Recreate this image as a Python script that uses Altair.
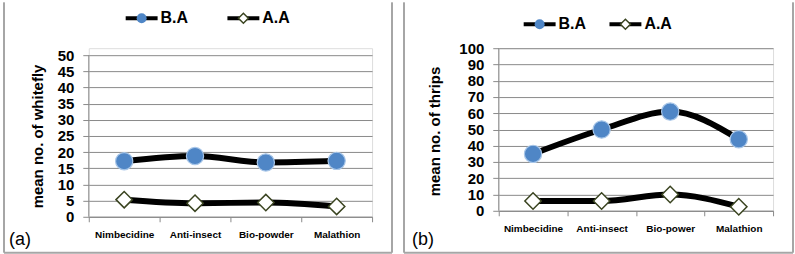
import altair as alt
import pandas as pd

FONT = "Liberation Sans"
GRAY = "#8a8a8a"
FRAME = "#a6a6a6"
BLUE = "#4f86c6"

series = ["B.A", "A.A"]

categories_a = ["Nimbecidine", "Anti-insect", "Bio-powder", "Malathion"]
ba_a = [17.2, 18.8, 16.8, 17.3]
aa_a = [5.3, 4.2, 4.4, 3.2]

categories_b = ["Nimbecidine", "Anti-insect", "Bio-power", "Malathion"]
ba_b = [35, 50, 61, 44]
aa_b = [6, 6, 10, 2.5]

yticks_a = list(range(0, 51, 5))
yticks_b = list(range(0, 101, 10))


def panel(cats, ba, aa, yticks, ytitle, tag, W, H, top, frame, leg, tagpos, title_xy):
    df = pd.DataFrame({
        "treatment": cats * 2,
        "series": [series[0]] * len(cats) + [series[1]] * len(cats),
        "value": ba + aa,
    })
    base = alt.Chart(df)
    x = alt.X("treatment:N", sort=cats,
              scale=alt.Scale(type="band", paddingInner=0, paddingOuter=0),
              axis=alt.Axis(title=None, labelAngle=0, labelFont=FONT, labelFontWeight="bold",
                            labelFontSize=10, labelColor="black", labelPadding=8,
                            tickBand="extent", tickSize=5, tickColor=GRAY, domainColor=GRAY,
                            grid=False))
    yscale = alt.Scale(domain=[yticks[0], yticks[-1]], nice=False, range=[H, top])
    yaxis = alt.Axis(values=yticks, title=ytitle, titleFont=FONT, titleFontWeight="bold",
                     titleFontSize=15, titleColor="black", titleX=title_xy[0],
                     titleY=title_xy[1], titleBaseline="middle", titleAlign="center",
                     titleAngle=270,
                     labelFont=FONT, labelFontWeight="bold", labelFontSize=15,
                     labelColor="black", labelPadding=9, tickSize=6, tickColor=GRAY,
                     domain=False, gridColor=GRAY, gridWidth=1, labelOverlap=False)
    y = alt.Y("value:Q", scale=yscale, axis=yaxis, title=ytitle)

    # vertical axis line spanning only the tick range, placed through the y scale
    ends = pd.DataFrame({"value": [yticks[-1]], "low": [yticks[0]]})
    yaxis_line = alt.Chart(ends).mark_rule(color=GRAY, strokeWidth=1).encode(
        x=alt.value(0), y=y, y2=alt.Y2("low:Q"))

    lines = base.mark_line(color="black", strokeWidth=6, interpolate="monotone").encode(
        x=x, y=y, detail="series:N")
    pts_ba = base.transform_filter(alt.datum.series == series[0]).mark_point(
        shape="circle", filled=True, fill=BLUE, stroke="#a8c6e8", strokeWidth=1.2,
        size=300, opacity=1).encode(x=x, y=y)
    pts_aa = base.transform_filter(alt.datum.series == series[1]).mark_point(
        shape="diamond", filled=True, fill="white", stroke="#3a4420", strokeWidth=1.5,
        size=270, opacity=1).encode(x=x, y=y)

    one = alt.Chart(alt.Data(values=[{}]))
    fl, fr, ft, fb = frame
    frames = [
        one.mark_rule(color=FRAME, strokeWidth=2).encode(x=alt.value(fl), y=alt.value(ft), y2=alt.value(fb)),
        one.mark_rule(color=FRAME, strokeWidth=2).encode(x=alt.value(fr), y=alt.value(ft), y2=alt.value(fb)),
        one.mark_rule(color=FRAME, strokeWidth=2).encode(x=alt.value(fl), x2=alt.value(fr), y=alt.value(fb)),
    ]
    lx1, lx2, ly = leg
    legend = [
        one.mark_rule(color="black", strokeWidth=4).encode(x=alt.value(lx1), x2=alt.value(lx1 + 32), y=alt.value(ly)),
        one.mark_point(shape="circle", filled=True, fill=BLUE, size=100, opacity=1).encode(
            x=alt.value(lx1 + 16), y=alt.value(ly)),
        one.mark_text(text=series[0], align="left", baseline="middle", font=FONT,
                      fontWeight="bold", fontSize=16).encode(x=alt.value(lx1 + 35), y=alt.value(ly)),
        one.mark_rule(color="black", strokeWidth=4).encode(x=alt.value(lx2), x2=alt.value(lx2 + 32), y=alt.value(ly)),
        one.mark_point(shape="diamond", filled=True, fill="white", stroke="#3a4420",
                       strokeWidth=1.5, size=100, opacity=1).encode(x=alt.value(lx2 + 16), y=alt.value(ly)),
        one.mark_text(text=series[1], align="left", baseline="middle", font=FONT,
                      fontWeight="bold", fontSize=16).encode(x=alt.value(lx2 + 35), y=alt.value(ly)),
    ]
    tagtext = one.mark_text(text=tag, align="left", baseline="middle", font=FONT,
                            fontSize=18).encode(x=alt.value(tagpos[0]), y=alt.value(tagpos[1]))
    return alt.layer(yaxis_line, lines, pts_ba, pts_aa, *frames, *legend, tagtext).properties(
        width=W, height=H)


pa = panel(categories_a, ba_a, aa_a, yticks_a, "mean no. of whitefly", "(a)", 284, 169, 7,
           (-85, 304, -46, 205), (37, 139, -30), (-80, 192), (-51, 88))
pb = panel(categories_b, ba_b, aa_b, yticks_b, "mean no. of thrips", "(b)", 275, 163, 0,
           (-95, 295, -46, 205), (25, 111, -24), (-87, 192), (-64, 83))

chart = alt.hconcat(pa, pb, spacing=8).properties(
    padding={"left": 2, "top": 0, "right": 0, "bottom": 0}
).configure_view(stroke=None).configure(background="white")

chart.save("out.html", embed_options={"renderer": "svg", "actions": False})
